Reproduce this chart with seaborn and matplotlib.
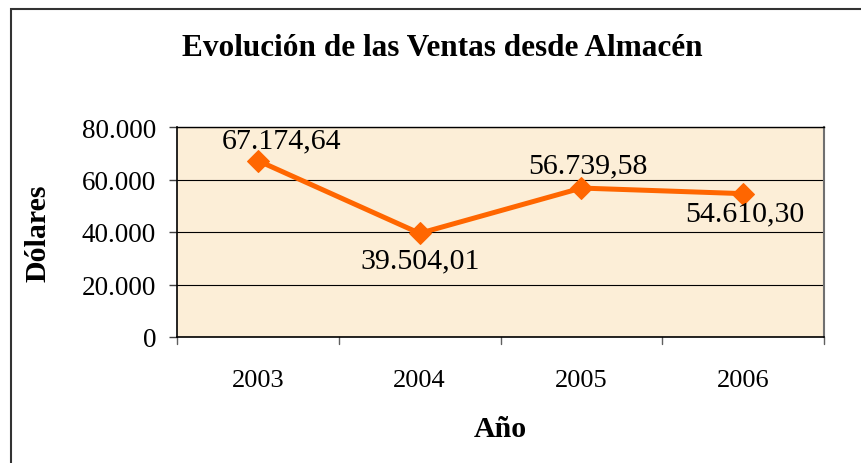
import matplotlib
matplotlib.use("Agg")
import matplotlib.pyplot as plt
import matplotlib.patches as mpatches
import seaborn as sns
import pandas as pd

# ── Data ────────────────────────────────────────────────────────────────
years  = ["2003", "2004", "2005", "2006"]
ventas = [67174.64, 39504.01, 56739.58, 54610.30]
etiquetas = ["67.174,64", "39.504,01", "56.739,58", "54.610,30"]
y_ticks = [0, 20000, 40000, 60000, 80000]
y_tick_labels = ["0", "20.000", "40.000", "60.000", "80.000"]

df = pd.DataFrame({"Año": years, "Dólares": ventas})

sns.set_theme(style="white")
plt.rcParams["font.family"] = ["Liberation Serif", "DejaVu Serif"]
plt.rcParams["text.color"] = "black"

W, H = 861, 464
fig = plt.figure(figsize=(W / 100, H / 100), dpi=100)
ax = fig.add_axes([177 / W, 1 - 338 / H, (824 - 177) / W, (338 - 128) / H])
ax.set_facecolor("#FCEED7")

orange = "#FF6600"
sns.lineplot(data=df, x="Año", y="Dólares", ax=ax, color=orange,
             linewidth=3.6, marker="D", markersize=11,
             markeredgecolor=orange, sort=False)

ax.set_xlim(-0.5, 3.5)
ax.set_ylim(0, 80000)
ax.set_yticks(y_ticks)
ax.set_yticklabels(y_tick_labels, fontsize=19.5, color="black")
ax.set_xticks([0, 1, 2, 3])
ax.set_xticklabels(years, fontsize=19, color="black")
ax.tick_params(axis="x", length=0, pad=23)
ax.tick_params(axis="y", length=6, width=1, color="#404040", pad=9,
               direction="out", left=True)

# category separator ticks on x axis
for xb in [-0.5, 0.5, 1.5, 2.5, 3.5]:
    ax.plot([xb, xb], [0, -0.035], transform=ax.get_xaxis_transform(),
            color="#606060", lw=1, clip_on=False)

ax.grid(axis="y", color="black", lw=0.8)
ax.grid(axis="x", visible=False)
for side in ["left", "bottom"]:
    ax.spines[side].set_color("black")
    ax.spines[side].set_linewidth(1.2)
ax.spines["right"].set_color("#707070")
ax.spines["right"].set_linewidth(1.5)
ax.spines["top"].set_color("black")
ax.spines["top"].set_linewidth(1)

ax.set_xlabel("Año", fontsize=21.5, fontweight="bold", color="black", va="center")
ax.set_ylabel("Dólares", fontsize=21.5, fontweight="bold", color="black", va="center")
ax.xaxis.set_label_coords(0.5, (338 - 430) / 210)
ax.yaxis.set_label_coords((38 - 177) / 647, 0.5)

# data labels (offsets in pixels -> points)
offsets = [(24, 20), (0, -27), (7, 23), (2, -20)]
for i, (lab, (dx, dy)) in enumerate(zip(etiquetas, offsets)):
    ax.annotate(lab, (i, ventas[i]), xytext=(dx * 0.72, dy * 0.72),
                textcoords="offset points", ha="center", va="center",
                fontsize=21.5, color="black")

fig.text(442 / W, 1 - 49 / H, "Evolución de las Ventas desde Almacén",
         ha="center", va="center", fontsize=22.5, fontweight="bold",
         color="black")

# outer chart border
fig.patches.append(mpatches.Rectangle((11 / W, -0.05), 1.2, 1 - 10 / H + 0.05,
                                      transform=fig.transFigure, fill=False,
                                      edgecolor="#333333", lw=1.5))

fig.savefig("out.png", dpi=100, facecolor="white")
